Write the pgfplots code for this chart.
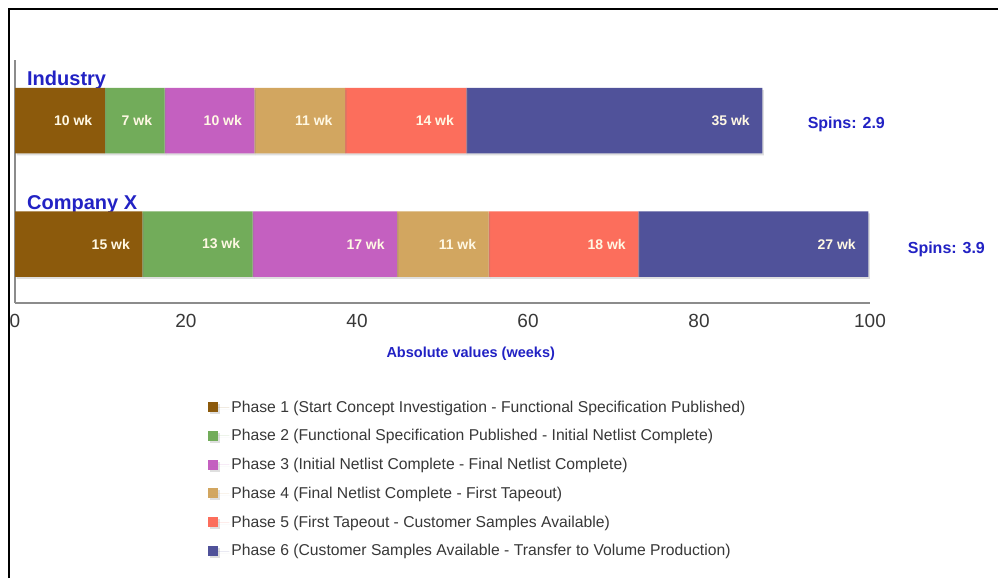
\documentclass[border=0pt]{standalone}
\usepackage{pgfplots}
\usepackage{pgfplotstable}
\pgfplotsset{compat=1.18}
\usetikzlibrary{shadows}
\usepackage{fontspec}
\setmainfont{Liberation Sans}
\definecolor{cBrown}{RGB}{140,90,12}
\definecolor{cGreen}{RGB}{114,172,90}
\definecolor{cPink}{RGB}{196,96,192}
\definecolor{cTan}{RGB}{210,166,96}
\definecolor{cSalmon}{RGB}{252,110,92}
\definecolor{cBlue}{RGB}{80,82,154}
\definecolor{txtBlue}{RGB}{34,34,196}
\definecolor{lblCol}{RGB}{255,248,228}

\pgfplotstableread{
y x lab
-120.5 10.5 10
-244 14.9 15
}\phaseA
\pgfplotstableread{
y x lab
-120.5 7.0 7
-244 12.9 13
}\phaseB
\pgfplotstableread{
y x lab
-120.5 10.5 10
-244 16.9 17
}\phaseC
\pgfplotstableread{
y x lab
-120.5 10.6 11
-244 10.7 11
}\phaseD
\pgfplotstableread{
y x lab
-120.5 14.2 14
-244 17.5 18
}\phaseE
\pgfplotstableread{
y x lab
-120.5 34.6 35
-244 26.9 27
}\phaseF
% segment ends (cumulative) with the rounded labels shown in the bars
\pgfplotstableread{
e y lab
10.5 -120.5 10
17.5 -120.5 7
28.0 -120.5 10
38.6 -120.5 11
52.8 -120.5 14
87.4 -120.5 35
14.9 -244 15
27.8 -244 13
44.7 -244 17
55.4 -244 11
72.9 -244 18
99.8 -244 27
}\labels

\pgfplotsset{
  geom/.style={at={(15pt,-303pt)}, anchor=south west,
    scale only axis, width=855pt, height=243pt,
    xmin=0, xmax=100, ymin=-303, ymax=-60, clip=false},
  shad/.style={drop shadow={shadow xshift=1.5pt, shadow yshift=-2pt, opacity=0.25}},
}

\begin{document}
\begin{tikzpicture}[x=1pt,y=1pt]
\useasboundingbox (0,0) rectangle (998,-578);
\fill[white] (0,0) rectangle (998,-578);
\begin{axis}[
  geom,
  xbar stacked, bar width=65.5pt,
  axis x line*=bottom, axis y line*=left,
  axis line style={draw=black!45, line width=1.4pt},
  ytick=\empty,
  xtick={0,20,40,60,80,100},
  major tick length=0pt,
  /pgf/number format/assume math mode=true,
  xticklabel style={font=\fontsize{19}{22}\selectfont, text=black!78, yshift=-8pt},
  xlabel={Absolute values (weeks)},
  xlabel style={at={(axis description cs:0.533,-0.21)}, anchor=center,
    font=\fontsize{14.5}{17}\selectfont\bfseries, text=txtBlue},
  legend style={at={(axis description cs:0.226,-0.393)}, anchor=north west,
    draw=none, fill=none, font=\fontsize{15.7}{18}\selectfont, text=black!78,
    row sep=11.9pt, inner sep=0pt},
  legend cell align=left,
  legend image code/.code={\fill[#1] (0pt,-5pt) rectangle (10pt,5pt); \path (0pt,0pt) -- (21pt,0pt);},
]
\addplot[fill=cBrown, draw=none, shad] table[x=x, y=y] {\phaseA};
\addplot[fill=cGreen, draw=none, shad] table[x=x, y=y] {\phaseB};
\addplot[fill=cPink, draw=none, shad] table[x=x, y=y] {\phaseC};
\addplot[fill=cTan, draw=none, shad] table[x=x, y=y] {\phaseD};
\addplot[fill=cSalmon, draw=none, shad] table[x=x, y=y] {\phaseE};
\addplot[fill=cBlue, draw=none, shad] table[x=x, y=y] {\phaseF};
\legend{Phase 1 (Start Concept Investigation - Functional Specification Published),
Phase 2 (Functional Specification Published - Initial Netlist Complete),
Phase 3 (Initial Netlist Complete - Final Netlist Complete),
Phase 4 (Final Netlist Complete - First Tapeout),
Phase 5 (First Tapeout - Customer Samples Available),
Phase 6 (Customer Samples Available - Transfer to Volume Production)}
\node[anchor=base west, font=\fontsize{20}{22}\selectfont\bfseries, text=txtBlue, inner sep=0pt] at (axis cs:1.4,-85) {Industry};
\node[anchor=base west, font=\fontsize{20}{22}\selectfont\bfseries, text=txtBlue, inner sep=0pt] at (axis cs:1.4,-209) {Company X};
\node[anchor=west, font=\fontsize{16}{18}\selectfont\bfseries, text=txtBlue, inner sep=0pt] at (axis cs:92.7,-124) {Spins: 2.9};
\node[anchor=west, font=\fontsize{16}{18}\selectfont\bfseries, text=txtBlue, inner sep=0pt] at (axis cs:104.4,-249) {Spins: 3.9};
\end{axis}
\begin{axis}[geom, hide axis, /pgf/number format/assume math mode=true]
\addplot[only marks, mark=none, point meta=explicit,
  nodes near coords={\pgfmathprintnumber{\pgfplotspointmeta} wk},
  every node near coord/.append style={anchor=east, xshift=-9pt,
    font=\fontsize{14}{16}\selectfont\bfseries, text=lblCol}]
  table[x=e, y=y, meta=lab] {\labels};
\end{axis}
\draw[line width=1.8pt, black] (8.6,-578) -- (8.6,-9) -- (998,-9);
\end{tikzpicture}
\end{document}
